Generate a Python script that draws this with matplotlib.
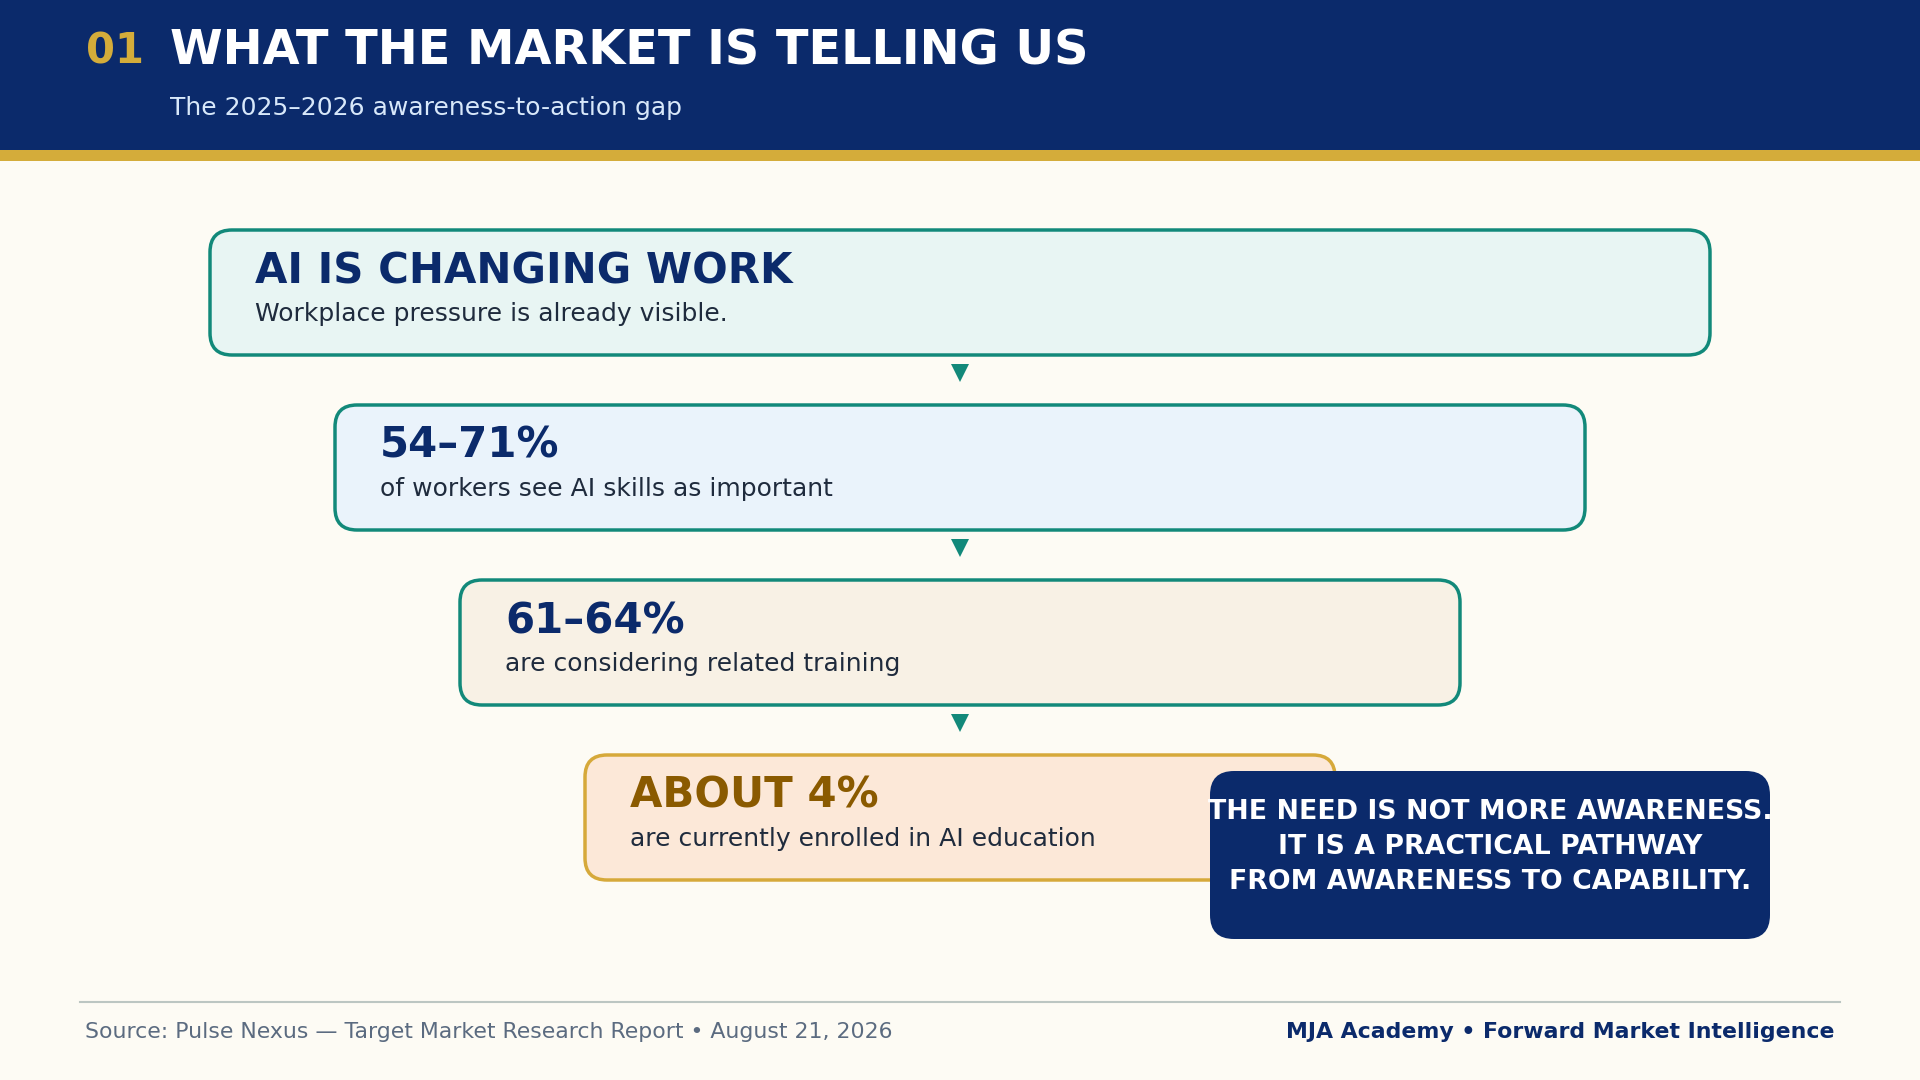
import matplotlib
matplotlib.use("Agg")
import matplotlib.pyplot as plt
from matplotlib.patches import FancyBboxPatch, Rectangle, Polygon

# slide content
section_no = "01"
title = "WHAT THE MARKET IS TELLING US"
subtitle = "The 2025\u20132026 awareness-to-action gap"

headings = ["AI IS CHANGING WORK", "54\u201371%", "61\u201364%", "ABOUT 4%"]
details = [
    "Workplace pressure is already visible.",
    "of workers see AI skills as important",
    "are considering related training",
    "are currently enrolled in AI education",
]
callout_lines = [
    "THE NEED IS NOT MORE AWARENESS.",
    "IT IS A PRACTICAL PATHWAY",
    "FROM AWARENESS TO CAPABILITY.",
]
source_text = "Source: Pulse Nexus \u2014 Target Market Research Report \u2022 August 21, 2026"
brand_text = "MJA Academy \u2022 Forward Market Intelligence"

# colours
NAVY = "#0B2A6B"
GOLD = "#D4AC3A"
BG = "#FDFBF4"
TEAL = "#12897A"
box_fills = ["#E8F5F3", "#EAF3FB", "#F8F1E5", "#FCE8D8"]
box_edges = [TEAL, TEAL, TEAL, "#D6A93A"]
head_colors = [NAVY, NAVY, NAVY, "#8A5A00"]

W, H = 1920, 1080
fig = plt.figure(figsize=(W / 100, H / 100), dpi=100, facecolor=BG)
ax = fig.add_axes([0, 0, 1, 1])
ax.set_xlim(0, W)
ax.set_ylim(H, 0)
ax.axis("off")
ax.set_facecolor(BG)

# header band
ax.add_patch(Rectangle((0, 0), W, 150, color=NAVY, lw=0))
ax.add_patch(Rectangle((0, 150), W, 11, color=GOLD, lw=0))
ax.text(86, 51, section_no, color=GOLD, fontsize=30, fontweight="bold", va="center")
ax.text(170, 51, title, color="white", fontsize=34.4, fontweight="bold", va="center")
ax.text(170, 108, subtitle, color="#D8E8FA", fontsize=18, va="center")

# funnel of stacked boxes
cx = 960
top0, box_h, step = 230, 125, 175
for i, (hd, dt) in enumerate(zip(headings, details)):
    bw = 1500 - 250 * i
    x0 = cx - bw / 2
    y0 = top0 + step * i
    ax.add_patch(FancyBboxPatch((x0, y0), bw, box_h,
                                boxstyle="round,pad=0,rounding_size=22",
                                fc=box_fills[i], ec=box_edges[i], lw=2.5))
    ax.text(x0 + 45, y0 + 41, hd, color=head_colors[i], fontsize=30.2,
            fontweight="bold", va="center")
    ax.text(x0 + 45, y0 + 84, dt, color="#1F2B3D", fontsize=18, va="center")
    if i < len(headings) - 1:
        yb = y0 + box_h
        ax.add_patch(Polygon([[cx - 9, yb + 9], [cx + 9, yb + 9], [cx, yb + 27]],
                             closed=True, color=TEAL, lw=0))

# callout
ax.add_patch(FancyBboxPatch((1210, 771), 560, 168,
                            boxstyle="round,pad=0,rounding_size=24",
                            fc=NAVY, ec=NAVY, lw=0))
for k, line in enumerate(callout_lines):
    ax.text(1490, 812 + 35 * k, line, color="white", fontsize=19.3,
            fontweight="bold", ha="center", va="center")

# footer
ax.plot([80, 1840], [1002, 1002], color="#BCC6C2", lw=1.5)
ax.text(85, 1032, source_text, color="#5B6B80", fontsize=15.8, va="center")
ax.text(1835, 1032, brand_text, color=NAVY, fontsize=15.8, fontweight="bold",
        ha="right", va="center")

fig.savefig("out.png", dpi=100, facecolor=BG)
